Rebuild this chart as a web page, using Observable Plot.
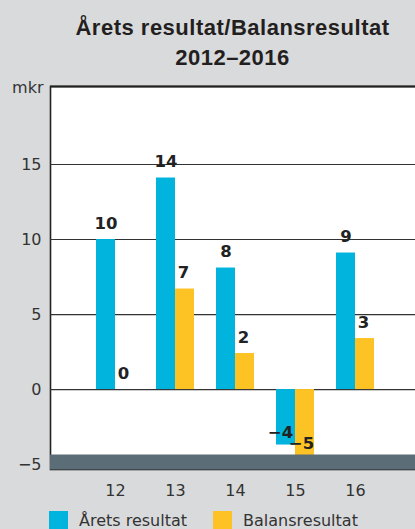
<!DOCTYPE html>
<html>
<head>
<meta charset="utf-8">
<script src="https://cdn.jsdelivr.net/npm/d3@7"></script>
<script src="https://cdn.jsdelivr.net/npm/@observablehq/plot@0.6"></script>
<style>
  html, body { margin: 0; padding: 0; background: #d9dadc; width: 415px; height: 529px; overflow: hidden; }
  #title { padding-top: 13px; padding-left: 50px; text-align: center; font-family: "Liberation Sans", Arial, sans-serif; font-weight: bold; font-size: 22px; letter-spacing: 0.5px; line-height: 30px; color: #231f20; height: 60px; }
  #chart svg { display: block; }
  #legend { display: flex; align-items: center; padding-left: 49px; margin-top: 6px; font-family: "DejaVu Sans", sans-serif; font-size: 16px; color: #333; line-height: 19px; }
  .sw { width: 19px; height: 19px; margin-right: 11px; }
  .item { display: flex; align-items: center; margin-right: 26px; }
</style>
</head>
<body>
<div id="title">Årets resultat/Balansresultat<br>2012–2016</div>
<div id="chart"></div>
<div id="legend"></div>
<script>
const years = ["12", "13", "14", "15", "16"];
const aretsResultat = [10.0, 14.1, 8.1, -3.7, 9.1];
const balansResultat = [0, 6.7, 2.4, -5.0, 3.4];
const seriesNames = ["Årets resultat", "Balansresultat"];
const seriesColors = ["#00b4dd", "#fdc224"];
const yTicks = [-5, 0, 5, 10, 15];
const yDomain = [-5.33, 20.2];

const arets = years.map((y, i) => ({year: y, value: aretsResultat[i]}));
const balans = years.map((y, i) => ({year: y, value: balansResultat[i]}));
const fmt = v => d3.format("d")(Math.round(v));

const labelFont = {fontFamily: "DejaVu Sans", fontWeight: "bold", fontSize: 16.5, fill: "#222"};

const plot = Plot.plot({
  width: 415,
  height: 432,
  marginLeft: 50,
  marginRight: 0,
  marginTop: 13,
  marginBottom: 36,
  style: {background: "transparent", overflow: "hidden", fontFamily: "DejaVu Sans", fontSize: "16px", color: "#333"},
  x: {domain: years, range: [85, 385], paddingInner: 22 / 60, paddingOuter: 11 / 60, tickSize: 0, tickPadding: 15, label: null},
  y: {domain: yDomain, ticks: yTicks, tickSize: 0, tickPadding: 9, label: null, tickFormat: d3.format("d")},
  marks: [
    Plot.frame({fill: "white", stroke: "#222", strokeWidth: 1.6, insetRight: -4}),
    Plot.ruleY(yTicks.filter(t => t >= 0), {stroke: "#333", strokeWidth: 1.2}),
    Plot.ruleY([yDomain[1]], {stroke: "#222", strokeWidth: 2}),
    Plot.barY(arets, {x: "year", y: "value", fill: seriesColors[0], insetRight: 19}),
    Plot.barY(balans, {x: "year", y: "value", fill: seriesColors[1], insetLeft: 19}),
    Plot.ruleY([yTicks[0]], {stroke: "#5b6e77", strokeWidth: 15, dy: -2.5}),
    Plot.axisY({ticks: yTicks, tickSize: 0, tickPadding: 9, tickFormat: d3.format("d"), fill: "#333", label: null}),
    Plot.axisX({tickSize: 0, tickPadding: 15, fill: "#333", label: null}),
    // labels
    Plot.text(arets.filter(d => d.value >= 0), {x: "year", y: "value", text: d => fmt(d.value), dx: -9.5, dy: -16, lineAnchor: "middle", ...labelFont}),
    Plot.text(balans.filter(d => d.value >= 0), {x: "year", y: "value", text: d => fmt(d.value), dx: 8, dy: -16, lineAnchor: "middle", ...labelFont}),
    Plot.text(arets.filter(d => d.value < 0), {x: "year", y: "value", text: d => fmt(d.value), dx: -15, dy: -12.5, lineAnchor: "middle", ...labelFont}),
    Plot.text(balans.filter(d => d.value < 0), {x: "year", y: "value", text: d => fmt(d.value), dx: 6, dy: -21, lineAnchor: "middle", ...labelFont}),
    Plot.text(["mkr"], {text: d => d, frameAnchor: "top-left", textAnchor: "end", dx: -7, dy: 1, lineAnchor: "middle", fill: "#333", fontSize: 16})
  ]
});
document.getElementById("chart").appendChild(plot);

const legend = document.getElementById("legend");
seriesNames.forEach((name, i) => {
  const item = document.createElement("div");
  item.className = "item";
  const sw = document.createElement("div");
  sw.className = "sw";
  sw.style.background = seriesColors[i];
  const label = document.createElement("span");
  label.textContent = name;
  item.appendChild(sw);
  item.appendChild(label);
  legend.appendChild(item);
});
</script>
</body>
</html>
